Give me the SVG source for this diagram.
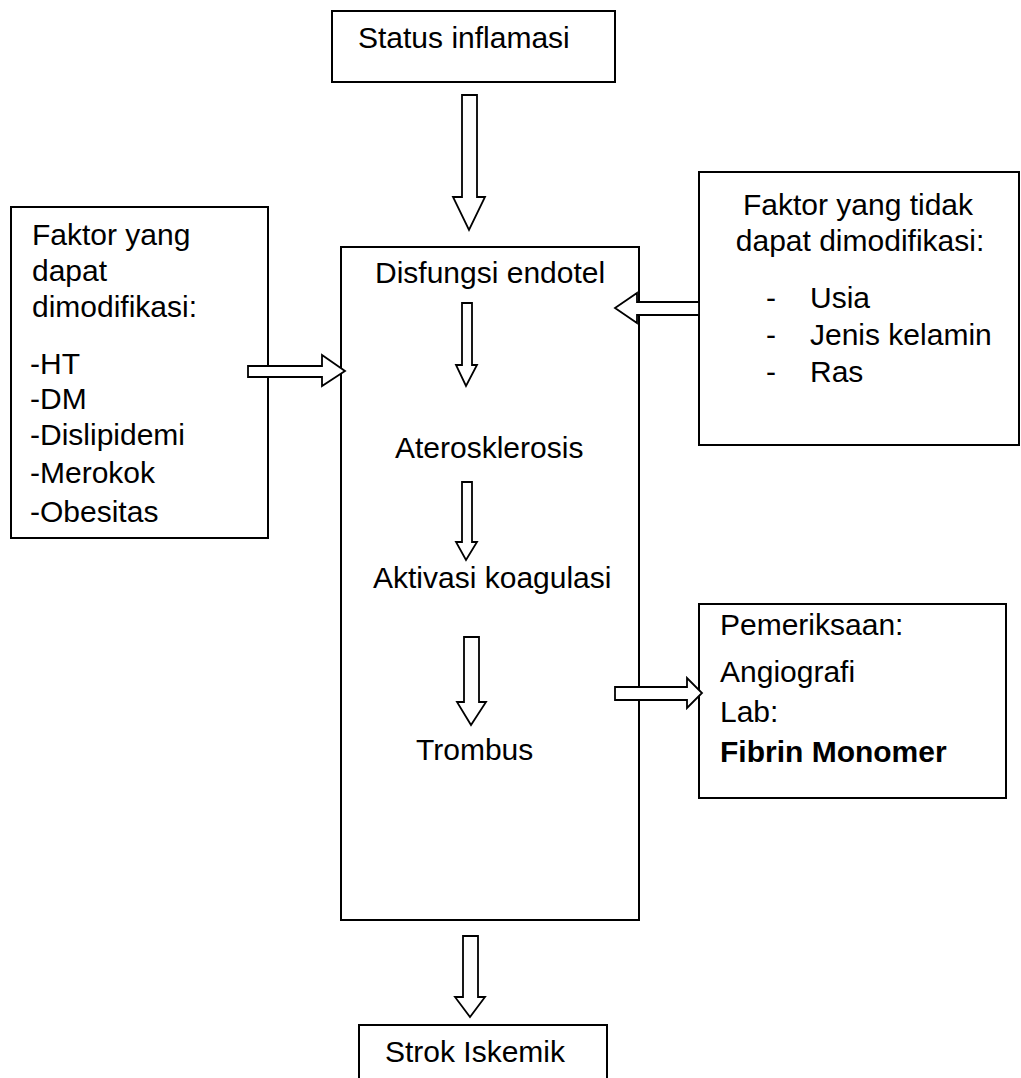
<svg xmlns="http://www.w3.org/2000/svg" width="1021" height="1078" viewBox="0 0 1021 1078">
  <style>
    .box { fill: #fff; stroke: #000; stroke-width: 2; }
    .arrow { fill: #fff; stroke: #000; stroke-width: 1.8; stroke-linejoin: miter; }
    text { font-family: "Liberation Sans", Arial, sans-serif; font-size: 30px; fill: #000; }
    .bold { font-weight: bold; }
    .mid { text-anchor: middle; }
  </style>
  <rect width="1021" height="1078" fill="#fff"/>

  <g id="status-inflamasi">
    <rect class="box" x="332" y="11" width="283" height="71"/>
    <text x="358" y="48">Status inflamasi</text>
  </g>

  <g id="faktor-dimodifikasi">
    <rect class="box" x="11" y="207" width="257" height="331"/>
    <text x="32" y="245">Faktor yang</text>
    <text x="32" y="281">dapat</text>
    <text x="32" y="317">dimodifikasi:</text>
    <text x="30" y="374">-HT</text>
    <text x="30" y="409">-DM</text>
    <text x="30" y="445">-Dislipidemi</text>
    <text x="30" y="483">-Merokok</text>
    <text x="30" y="522">-Obesitas</text>
  </g>

  <g id="proses">
    <rect class="box" x="341" y="247" width="298" height="673"/>
    <text x="375" y="283">Disfungsi endotel</text>
    <text x="395" y="458">Aterosklerosis</text>
    <text x="373" y="588">Aktivasi koagulasi</text>
    <text x="416" y="760">Trombus</text>
  </g>

  <g id="faktor-tidak-dimodifikasi">
    <rect class="box" x="699" y="172" width="320" height="273"/>
    <text class="mid" x="858" y="215">Faktor yang tidak</text>
    <text class="mid" x="860" y="251">dapat dimodifikasi:</text>
    <text x="766" y="308">-</text>
    <text x="810" y="308">Usia</text>
    <text x="766" y="345">-</text>
    <text x="810" y="345">Jenis kelamin</text>
    <text x="766" y="382">-</text>
    <text x="810" y="382">Ras</text>
  </g>

  <g id="pemeriksaan">
    <rect class="box" x="699" y="604" width="307" height="194"/>
    <text x="720" y="635">Pemeriksaan:</text>
    <text x="720" y="682">Angiografi</text>
    <text x="720" y="722">Lab:</text>
    <text class="bold" x="720" y="762">Fibrin Monomer</text>
  </g>

  <g id="strok-iskemik">
    <rect class="box" x="359" y="1025" width="248" height="70"/>
    <text x="385" y="1062">Strok Iskemik</text>
  </g>

  <g id="connectors">
    <!-- block arrows: shaft + triangular head -->
    <polygon class="arrow" points="462,95 477,95 477,197 485,197 469,230 453,197 462,197"/>
    <polygon class="arrow" points="248,366 322,366 322,355 345,371 322,386 322,377 248,377"/>
    <polygon class="arrow" points="699,302 637,302 637,293 615,308 637,323 637,315 699,315"/>
    <polygon class="arrow" points="462,303 472,303 472,365 477,365 466,386 456,365 462,365"/>
    <polygon class="arrow" points="462,482 472,482 472,542 477,542 466,560 456,542 462,542"/>
    <polygon class="arrow" points="464,637 479,637 479,702 486,702 471,725 457,702 464,702"/>
    <polygon class="arrow" points="615,687 687,687 687,678 702,693 687,708 687,700 615,700"/>
    <polygon class="arrow" points="463,936 478,936 478,997 485,997 470,1017 455,997 463,997"/>
  </g>
</svg>
